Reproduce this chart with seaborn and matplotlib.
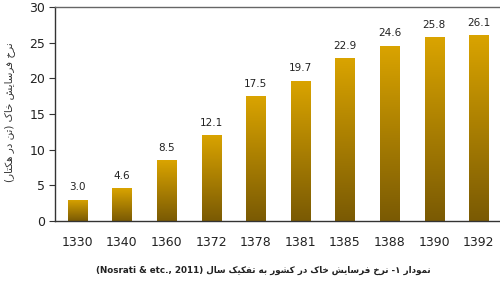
import numpy as np
import pandas as pd
import matplotlib
matplotlib.use("Agg")
import matplotlib.pyplot as plt
import seaborn as sns
from matplotlib.colors import LinearSegmentedColormap

# ---- data ----
years = ["1330", "1340", "1360", "1372", "1378", "1381", "1385", "1388", "1390", "1392"]
erosion = [3.0, 4.6, 8.5, 12.1, 17.5, 19.7, 22.9, 24.6, 25.8, 26.1]
y_ticks = [0, 5, 10, 15, 20, 25, 30]
ylabel_text = "نرخ فرسایش خاک (تن در هکتار)"
caption_fa = "نمودار ۱- نرخ فرسایش خاک در کشور به تفکیک سال"
caption_en = "(Nosrati & etc., 2011)"

# ---- minimal Persian shaping (visual order) ----
FORMS = {  # isolated, final, initial, medial
    "ا": ("\uFE8D", "\uFE8E", None, None),
    "ب": ("\uFE8F", "\uFE90", "\uFE91", "\uFE92"),
    "ت": ("\uFE95", "\uFE96", "\uFE97", "\uFE98"),
    "خ": ("\uFEA5", "\uFEA6", "\uFEA7", "\uFEA8"),
    "د": ("\uFEA9", "\uFEAA", None, None),
    "ر": ("\uFEAD", "\uFEAE", None, None),
    "س": ("\uFEB1", "\uFEB2", "\uFEB3", "\uFEB4"),
    "ش": ("\uFEB5", "\uFEB6", "\uFEB7", "\uFEB8"),
    "ف": ("\uFED1", "\uFED2", "\uFED3", "\uFED4"),
    "ل": ("\uFEDD", "\uFEDE", "\uFEDF", "\uFEE0"),
    "م": ("\uFEE1", "\uFEE2", "\uFEE3", "\uFEE4"),
    "ن": ("\uFEE5", "\uFEE6", "\uFEE7", "\uFEE8"),
    "ه": ("\uFEE9", "\uFEEA", "\uFEEB", "\uFEEC"),
    "و": ("\uFEED", "\uFEEE", None, None),
    "ک": ("\uFB8E", "\uFB8F", "\uFB90", "\uFB91"),
    "ی": ("\uFBFC", "\uFBFD", "\uFBFE", "\uFBFF"),
}


def joins_left(ch):
    return ch in FORMS and FORMS[ch][2] is not None


def shape_word(w):
    out = []
    for i, ch in enumerate(w):
        if ch not in FORMS:
            out.append(ch)
            continue
        prev_j = i > 0 and joins_left(w[i - 1])
        next_j = i < len(w) - 1 and w[i + 1] in FORMS and joins_left(ch)
        iso, fin, ini, med = FORMS[ch]
        if prev_j and next_j:
            out.append(med)
        elif prev_j:
            out.append(fin)
        elif next_j:
            out.append(ini)
        else:
            out.append(iso)
    return "".join(out)[::-1]


def visual(text):
    words = text.split(" ")
    shaped = []
    for w in words:
        s = shape_word(w)
        s = s.translate(str.maketrans("()", ")("))
        shaped.append(s)
    return " ".join(shaped[::-1])


# ---- plot ----
sns.set_theme(style="white")
plt.rcParams["font.family"] = ["DejaVu Sans"]
fig = plt.figure(figsize=(5.0, 2.83), dpi=100)
ax = fig.add_axes([0.11, 0.219, 0.892, 0.756])

df = pd.DataFrame({"year": years, "erosion": erosion})
sns.barplot(data=df, x="year", y="erosion", color="#C89400", width=0.43,
            ax=ax, saturation=1)

cmap = LinearSegmentedColormap.from_list("gold", ["#7A5A04", "#DAA400"])
grad = np.linspace(0, 1, 256).reshape(-1, 1)
for p in ax.patches:
    x0, y0 = p.get_x(), p.get_y()
    w, h = p.get_width(), p.get_height()
    p.set_edgecolor("none")
    im = ax.imshow(grad, cmap=cmap, origin="lower", aspect="auto",
                   extent=[x0, x0 + w, y0, y0 + h], zorder=p.get_zorder() + 0.1)
    im.set_clip_path(p)

ax.set_xlim(-0.5, len(years) - 0.5)
ax.set_ylim(0, 30)
ax.set_yticks(y_ticks)
ax.set_xlabel("")
ax.set_ylabel("")

for i, v in enumerate(erosion):
    ax.text(i, v + 1.0, f"{v:.1f}", ha="center", va="bottom", fontsize=7.5,
            color="#222222")

for s in ["left", "bottom", "top"]:
    ax.spines[s].set_visible(True)
    ax.spines[s].set_color("#333333")
    ax.spines[s].set_linewidth(1.0)
ax.spines["right"].set_visible(False)
ax.spines["top"].set_color("#666666")

ax.tick_params(axis="y", which="both", left=True, length=4, width=0.8,
               color="#333333", labelsize=9, labelcolor="#222222", pad=3)
ax.tick_params(axis="x", bottom=False, labelsize=9, labelcolor="#222222", pad=5)

fig.text(0.02, 0.604, visual(ylabel_text), rotation=90, ha="center",
         va="center", fontsize=7.5, color="#333333")
fig.text(0.527, 0.045, caption_en + " " + visual(caption_fa), ha="center",
         va="center", fontsize=6.3, fontweight="bold", color="#222222")

fig.savefig("out.png", dpi=100)
